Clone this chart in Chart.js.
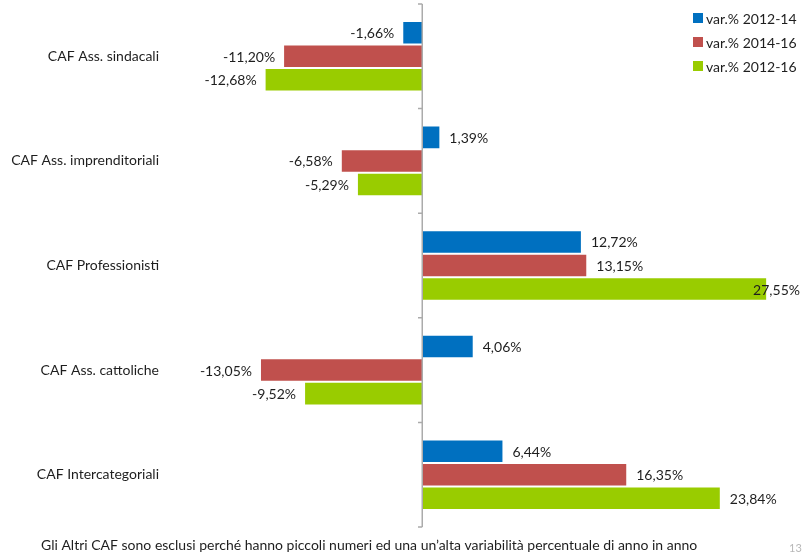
<!DOCTYPE html>
<html lang="it">
<head>
    <meta charset="UTF-8">
    <title>Variazioni CAF</title>
    <script src="https://cdn.jsdelivr.net/npm/chart.js"></script>
    <style>
        html, body { margin: 0; padding: 0; background: #fff; }
        #wrap { width: 802px; height: 554px; position: relative; }
    </style>
</head>
<body>
<div id="wrap"><canvas id="chart"></canvas></div>
<script>
    const categories = ['CAF Ass. sindacali', 'CAF Ass. imprenditoriali', 'CAF Professionisti', 'CAF Ass. cattoliche', 'CAF Intercategoriali'];
    const seriesNames = ['var.% 2012-14', 'var.% 2014-16', 'var.% 2012-16'];
    const var1214 = [-1.66, 1.39, 12.72, 4.06, 6.44];
    const var1416 = [-11.20, -6.58, 13.15, -13.05, 16.35];
    const var1216 = [-12.68, -5.29, 27.55, -9.52, 23.84];
    const colors = ['#0070C0', '#C0504D', '#99CC00'];
    const footNote = 'Gli Altri CAF sono esclusi perché hanno piccoli numeri ed una un\u2019alta variabilità percentuale di anno in anno';

    const FONT = 'Lato, "Liberation Sans", sans-serif';
    const fmt = v => v.toFixed(2).replace('.', ',') + '%';

    // zero axis with small ticks between categories
    const zeroAxis = {
        id: 'zeroAxis',
        afterDatasetsDraw(chart) {
            const {ctx, chartArea, scales: {x}} = chart;
            const x0 = x.getPixelForValue(0);
            ctx.save();
            ctx.strokeStyle = '#ababab';
            ctx.lineWidth = 1.5;
            ctx.beginPath();
            ctx.moveTo(x0 - 0.75, chartArea.top);
            ctx.lineTo(x0 - 0.75, chartArea.bottom);
            const n = categories.length;
            for (let i = 0; i <= n; i++) {
                const yy = chartArea.top + (chartArea.bottom - chartArea.top) * i / n;
                ctx.moveTo(x0 - 5, yy);
                ctx.lineTo(x0 - 0.75, yy);
            }
            ctx.stroke();
            ctx.restore();
        }
    };

    // value labels, legend, footnote
    const extras = {
        id: 'extras',
        afterDraw(chart) {
            const {ctx} = chart;
            ctx.save();
            ctx.font = '14px ' + FONT;
            ctx.fillStyle = '#1e1e1e';
            ctx.textBaseline = 'middle';
            chart.data.datasets.forEach((ds, di) => {
                chart.getDatasetMeta(di).data.forEach((bar, i) => {
                    const v = ds.data[i];
                    const t = fmt(v);
                    const w = ctx.measureText(t).width;
                    if (v >= 0) {
                        let tx = bar.x + 9;
                        if (tx + w > chart.width - 2) tx = chart.width - 2 - w;
                        ctx.textAlign = 'left';
                        ctx.fillText(t, tx, bar.y + 1);
                    } else {
                        ctx.textAlign = 'right';
                        ctx.fillText(t, bar.x - 8, bar.y + 1);
                    }
                });
            });

            // legend
            ctx.textAlign = 'left';
            seriesNames.forEach((name, i) => {
                const cy = 18 + i * 24;
                ctx.fillStyle = colors[i];
                ctx.fillRect(693, cy - 5, 10, 10);
                ctx.fillStyle = '#1e1e1e';
                ctx.fillText(name, 706, cy + 1);
            });

            // footnote and page number
            ctx.fillStyle = '#1e1e1e';
            ctx.fillText(footNote, 41, 545);
            ctx.font = '11px ' + FONT;
            ctx.fillStyle = '#b8b8b8';
            ctx.fillText('13', 789, 548);
            ctx.restore();
        }
    };

    new Chart(document.getElementById('chart'), {
        type: 'bar',
        data: {
            labels: categories,
            datasets: [var1214, var1416, var1216].map((d, i) => ({
                label: seriesNames[i],
                data: d,
                backgroundColor: colors[i],
                borderColor: 'rgba(255,255,255,0.6)',
                borderWidth: 1,
                categoryPercentage: 0.675,
                barPercentage: 1
            }))
        },
        options: {
            indexAxis: 'y',
            responsive: true,
            maintainAspectRatio: false,
            animation: false,
            layout: { padding: { left: 0, right: 2, top: 4, bottom: 27 } },
            plugins: {
                legend: { display: false },
                tooltip: { enabled: false }
            },
            scales: {
                x: {
                    display: false,
                    min: -14.65,
                    max: 30.18
                },
                y: {
                    afterFit(scale) { scale.width = 240; },
                    grid: { display: false, drawTicks: true, tickLength: 81 },
                    border: { display: false },
                    ticks: {
                        crossAlign: 'near',
                        padding: 0,
                        color: '#1e1e1e',
                        font: { family: FONT, size: 14, lineHeight: 0.5 }
                    }
                }
            }
        },
        plugins: [zeroAxis, extras]
    });
</script>
</body>
</html>
